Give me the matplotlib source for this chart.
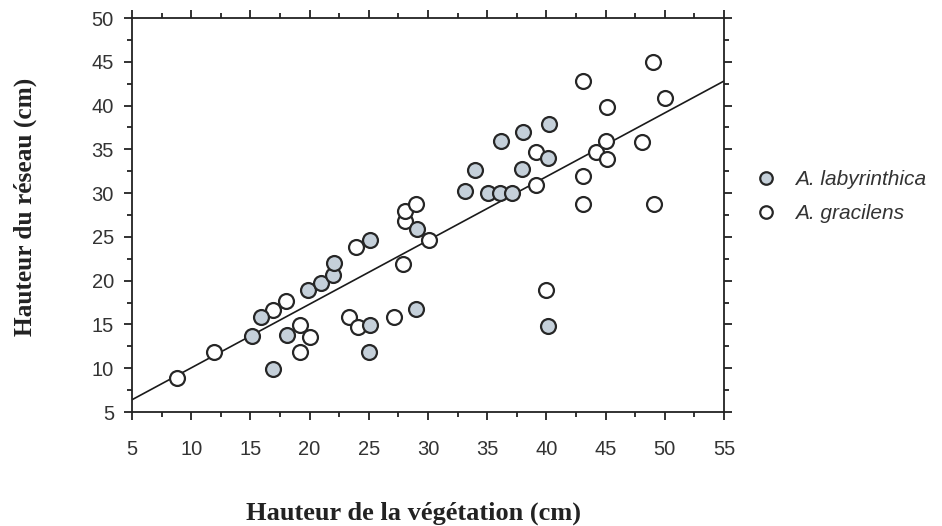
import matplotlib
matplotlib.use("Agg")
import matplotlib.pyplot as plt
from matplotlib.ticker import MultipleLocator
from matplotlib.lines import Line2D

# --- data ---
lab_x = [15.1, 15.9, 16.9, 18.1, 19.9, 21.0, 22.0, 22.1, 25.1, 25.1, 25.0, 29.1, 29.0,
         33.1, 34.0, 35.1, 36.2, 36.1, 37.1, 38.05, 37.9, 40.2, 40.1, 40.1]
lab_y = [13.7, 15.9, 9.9, 13.8, 18.9, 19.7, 20.6, 22.05, 24.7, 14.9, 11.8, 25.9, 16.8,
         30.2, 32.6, 30.05, 35.9, 30.05, 30.0, 37.0, 32.7, 37.9, 34.0, 14.8]

gra_x = [8.8, 11.9, 16.9, 18.0, 19.2, 19.2, 20.0, 23.3, 24.1, 23.9, 27.1, 27.9, 28.05, 28.05,
         29.0, 30.1, 39.1, 39.1, 40.0, 43.1, 43.1, 43.1, 44.2, 45.1, 45.0, 45.1, 48.1, 49.0,
         49.1, 50.0]
gra_y = [8.85, 11.8, 16.7, 17.7, 14.9, 11.9, 13.6, 15.9, 14.7, 23.8, 15.9, 21.9, 26.85, 27.9,
         28.75, 24.6, 34.7, 30.9, 18.9, 42.8, 32.0, 28.8, 34.7, 39.8, 36.0, 33.9, 35.8, 45.0,
         28.75, 40.9]

line_x = [5, 55]
line_y = [6.4, 42.8]

series_labels = ["A. labyrinthica", "A. gracilens"]
x_label = "Hauteur de la végétation (cm)"
y_label = "Hauteur du réseau (cm)"

W, H = 942, 526
fig = plt.figure(figsize=(W / 100, H / 100), dpi=100)
ax = fig.add_axes([132 / W, 1 - 412 / H, (724 - 132) / W, (412 - 18) / H])

ink = "#222222"
gray_fill = "#c5d0da"

ax.plot(line_x, line_y, color="#1a1a1a", lw=1.2, zorder=2)
ax.scatter(gra_x, gra_y, s=115, facecolor="white", edgecolor="#262626", linewidths=1.6, zorder=3)
ax.scatter(lab_x, lab_y, s=115, facecolor=gray_fill, edgecolor="#262626", linewidths=1.6, zorder=4)

ax.set_xlim(5, 55)
ax.set_ylim(5, 50)
ax.xaxis.set_major_locator(MultipleLocator(5))
ax.xaxis.set_minor_locator(MultipleLocator(2.5))
ax.yaxis.set_major_locator(MultipleLocator(5))
ax.yaxis.set_minor_locator(MultipleLocator(2.5))

for sp in ax.spines.values():
    sp.set_linewidth(1.3)
    sp.set_color(ink)

ax.tick_params(which="both", direction="out", top=True, right=True, color=ink, width=1.3)
ax.tick_params(which="major", length=6)
ax.tick_params(which="minor", length=3.5)
ax.tick_params(axis="both", which="major", labelsize=14.5, labelcolor="#333333")
ax.tick_params(axis="y", which="major", pad=7)
ax.tick_params(axis="x", which="major", pad=14)
for lab in ax.get_xticklabels() + ax.get_yticklabels():
    lab.set_family("Liberation Sans")

fig.text(414 / W, 1 - 513 / H, x_label, ha="center", va="center",
         family="Liberation Serif", fontweight="bold", fontsize=19, color="#222222")
fig.text(25 / W, 1 - 207 / H, y_label, ha="center", va="center", rotation=90,
         family="Liberation Serif", fontweight="bold", fontsize=18.3, color="#222222")

handles = [
    Line2D([], [], ls="none", marker="o", markersize=9, markerfacecolor=gray_fill,
           markeredgecolor="#262626", markeredgewidth=1.6),
    Line2D([], [], ls="none", marker="o", markersize=9, markerfacecolor="white",
           markeredgecolor="#262626", markeredgewidth=1.6),
]
leg = fig.legend(handles, series_labels, loc="upper left",
                 bbox_to_anchor=(745 / W, 1 - 160 / H), frameon=False,
                 prop={"family": "Liberation Sans", "style": "italic", "size": 15},
                 handletextpad=0.9, labelspacing=0.7, handlelength=1.0, borderpad=0)
for t in leg.get_texts():
    t.set_color("#333333")

fig.savefig("out.png", dpi=100)
